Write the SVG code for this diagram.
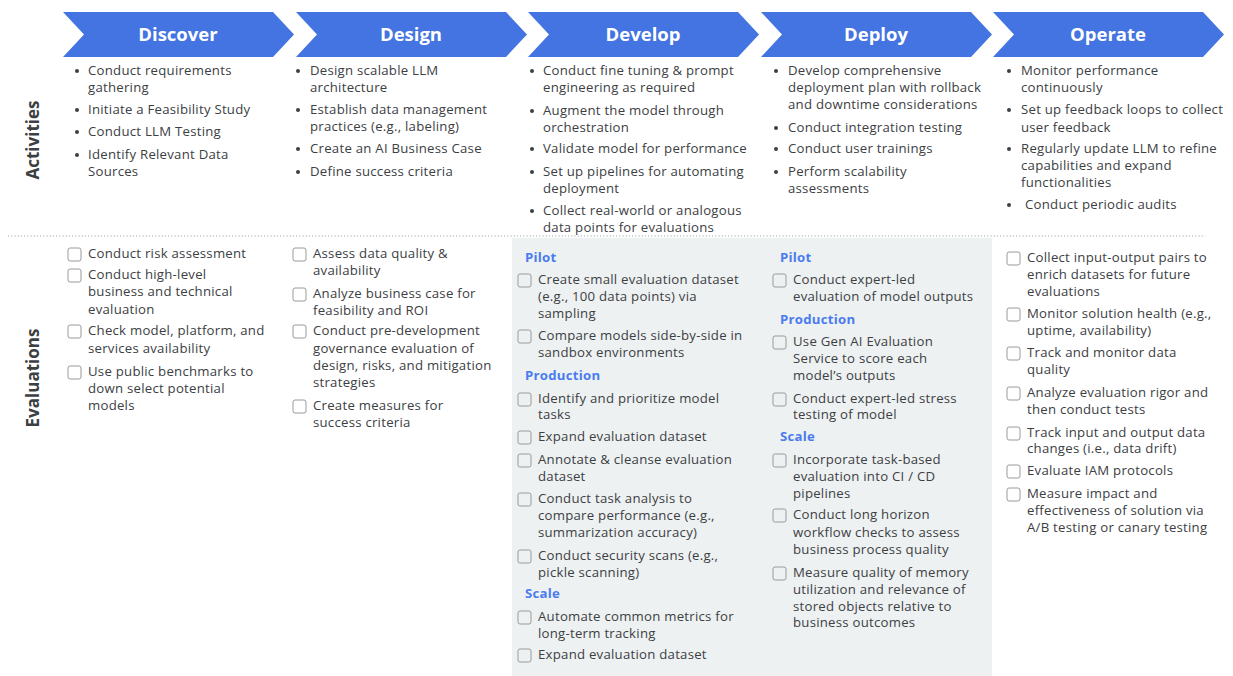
<svg xmlns="http://www.w3.org/2000/svg" width="1233" height="676" viewBox="0 0 1233 676">
<defs>
<style>
.bg{fill:#ffffff}
.chev{fill:#4374E2}
.ht{font-family:"Open Sans","Liberation Sans",sans-serif;font-size:18.5px;font-weight:700;fill:#ffffff;text-anchor:middle}
.t{font-family:"Open Sans","Liberation Sans",sans-serif;font-size:13.2px;letter-spacing:0.25px;fill:#3c4043}
.lab{font-family:"Open Sans","Liberation Sans",sans-serif;font-size:13.2px;letter-spacing:0.25px;font-weight:700;fill:#4A7BEF}
.side{font-family:"Open Sans","Liberation Sans",sans-serif;font-size:17px;font-weight:700;fill:#3c4043;text-anchor:middle}
.bul{fill:#3c4043}
.cb{fill:none;stroke:#9a9a9a;stroke-width:1}
.panel{fill:#EEF1F2}
.dot{stroke:#a8a8a8;stroke-width:1.2;stroke-dasharray:1.2 2;fill:none}
</style>
<circle id="b" r="2" class="bul"/>
<rect id="c" width="13" height="13" rx="2" class="cb"/>
</defs>
<rect class="bg" width="1233" height="676"/>
<rect class="panel" x="512" y="238" width="480" height="438"/>
<line class="dot" x1="8" y1="236" x2="1205" y2="236"/>

<g id="side-labels">
<text class="side" transform="translate(39,140) rotate(-90)">Activities</text>
<text class="side" transform="translate(39,378) rotate(-90)">Evaluations</text>
</g>

<g id="discover">
<path class="chev" d="M63,12 H273 L294,34.5 L273,57 H63 L84,34.5 Z"/>
<text class="ht" x="178" y="41">Discover</text>
<g class="t">
<use href="#b" x="77" y="71"/><text x="88" y="75">Conduct requirements</text><text x="88" y="92">gathering</text>
<use href="#b" x="77" y="110"/><text x="88" y="114">Initiate a Feasibility Study</text>
<use href="#b" x="77" y="132"/><text x="88" y="136">Conduct LLM Testing</text>
<use href="#b" x="77" y="155"/><text x="88" y="159">Identify Relevant Data</text><text x="88" y="176">Sources</text>
</g>
<g class="t">
<use href="#c" x="68" y="248"/><text x="88" y="258">Conduct risk assessment</text>
<use href="#c" x="68" y="269"/><text x="88" y="279">Conduct high-level</text><text x="88" y="296">business and technical</text><text x="88" y="314">evaluation</text>
<use href="#c" x="68" y="325"/><text x="88" y="335">Check model, platform, and</text><text x="88" y="353">services availability</text>
<use href="#c" x="68" y="366"/><text x="88" y="376">Use public benchmarks to</text><text x="88" y="393">down select potential</text><text x="88" y="410">models</text>
</g>
</g>

<g id="design">
<path class="chev" d="M296,12 H506 L527,34.5 L506,57 H296 L317,34.5 Z"/>
<text class="ht" x="411" y="41">Design</text>
<g class="t">
<use href="#b" x="298" y="71"/><text x="310" y="75">Design scalable LLM</text><text x="310" y="92">architecture</text>
<use href="#b" x="298" y="110"/><text x="310" y="114">Establish data management</text><text x="310" y="131">practices (e.g., labeling)</text>
<use href="#b" x="298" y="149"/><text x="310" y="153">Create an AI Business Case</text>
<use href="#b" x="298" y="172"/><text x="310" y="176">Define success criteria</text>
</g>
<g class="t">
<use href="#c" x="293" y="248"/><text x="313" y="258">Assess data quality &amp;</text><text x="313" y="275">availability</text>
<use href="#c" x="293" y="288"/><text x="313" y="298">Analyze business case for</text><text x="313" y="315">feasibility and ROI</text>
<use href="#c" x="293" y="325"/><text x="313" y="335">Conduct pre-development</text><text x="313" y="353">governance evaluation of</text><text x="313" y="370">design, risks, and mitigation</text><text x="313" y="387">strategies</text>
<use href="#c" x="293" y="400"/><text x="313" y="410">Create measures for</text><text x="313" y="427">success criteria</text>
</g>
</g>

<g id="develop">
<path class="chev" d="M528,12 H738 L759,34.5 L738,57 H528 L549,34.5 Z"/>
<text class="ht" x="643" y="41">Develop</text>
<g class="t">
<use href="#b" x="532" y="71"/><text x="543" y="75">Conduct fine tuning &amp; prompt</text><text x="543" y="92">engineering as required</text>
<use href="#b" x="532" y="111"/><text x="543" y="115">Augment the model through</text><text x="543" y="132">orchestration</text>
<use href="#b" x="532" y="149"/><text x="543" y="153">Validate model for performance</text>
<use href="#b" x="532" y="172"/><text x="543" y="176">Set up pipelines for automating</text><text x="543" y="193">deployment</text>
<use href="#b" x="532" y="211"/><text x="543" y="215">Collect real-world or analogous</text><text x="543" y="232">data points for evaluations</text>
</g>
<g class="t">
<text class="lab" x="525" y="262">Pilot</text>
<use href="#c" x="518" y="274"/><text x="538" y="284">Create small evaluation dataset</text><text x="538" y="301">(e.g., 100 data points) via</text><text x="538" y="318">sampling</text>
<use href="#c" x="518" y="330"/><text x="538" y="340">Compare models side-by-side in</text><text x="538" y="357">sandbox environments</text>
<text class="lab" x="525" y="380">Production</text>
<use href="#c" x="518" y="393"/><text x="538" y="403">Identify and prioritize model</text><text x="538" y="419">tasks</text>
<use href="#c" x="518" y="431"/><text x="538" y="441">Expand evaluation dataset</text>
<use href="#c" x="518" y="454"/><text x="538" y="464">Annotate &amp; cleanse evaluation</text><text x="538" y="481">dataset</text>
<use href="#c" x="518" y="493"/><text x="538" y="503">Conduct task analysis to</text><text x="538" y="520">compare performance (e.g.,</text><text x="538" y="537">summarization accuracy)</text>
<use href="#c" x="518" y="550"/><text x="538" y="560">Conduct security scans (e.g.,</text><text x="538" y="577">pickle scanning)</text>
<text class="lab" x="525" y="598">Scale</text>
<use href="#c" x="518" y="611"/><text x="538" y="621">Automate common metrics for</text><text x="538" y="638">long-term tracking</text>
<use href="#c" x="518" y="649"/><text x="538" y="659">Expand evaluation dataset</text>
</g>
</g>

<g id="deploy">
<path class="chev" d="M761,12 H971 L992,34.5 L971,57 H761 L782,34.5 Z"/>
<text class="ht" x="876" y="41">Deploy</text>
<g class="t">
<use href="#b" x="776" y="71"/><text x="788" y="75">Develop comprehensive</text><text x="788" y="92">deployment plan with rollback</text><text x="788" y="109">and downtime considerations</text>
<use href="#b" x="776" y="128"/><text x="788" y="132">Conduct integration testing</text>
<use href="#b" x="776" y="149"/><text x="788" y="153">Conduct user trainings</text>
<use href="#b" x="776" y="172"/><text x="788" y="176">Perform scalability</text><text x="788" y="193">assessments</text>
</g>
<g class="t">
<text class="lab" x="780" y="262">Pilot</text>
<use href="#c" x="773" y="274"/><text x="793" y="284">Conduct expert-led</text><text x="793" y="301">evaluation of model outputs</text>
<text class="lab" x="780" y="324">Production</text>
<use href="#c" x="773" y="336"/><text x="793" y="346">Use Gen AI Evaluation</text><text x="793" y="363">Service to score each</text><text x="793" y="380">model’s outputs</text>
<use href="#c" x="773" y="393"/><text x="793" y="403">Conduct expert-led stress</text><text x="793" y="419">testing of model</text>
<text class="lab" x="780" y="441">Scale</text>
<use href="#c" x="773" y="454"/><text x="793" y="464">Incorporate task-based</text><text x="793" y="481">evaluation into CI / CD</text><text x="793" y="498">pipelines</text>
<use href="#c" x="773" y="509"/><text x="793" y="519">Conduct long horizon</text><text x="793" y="537">workflow checks to assess</text><text x="793" y="554">business process quality</text>
<use href="#c" x="773" y="567"/><text x="793" y="577">Measure quality of memory</text><text x="793" y="594">utilization and relevance of</text><text x="793" y="611">stored objects relative to</text><text x="793" y="627">business outcomes</text>
</g>
</g>

<g id="operate">
<path class="chev" d="M993,12 H1203 L1224,34.5 L1203,57 H993 L1014,34.5 Z"/>
<text class="ht" x="1108" y="41">Operate</text>
<g class="t">
<use href="#b" x="1009" y="71"/><text x="1021" y="75">Monitor performance</text><text x="1021" y="92">continuously</text>
<use href="#b" x="1009" y="110"/><text x="1021" y="114">Set up feedback loops to collect</text><text x="1021" y="132">user feedback</text>
<use href="#b" x="1009" y="149"/><text x="1021" y="153">Regularly update LLM to refine</text><text x="1021" y="170">capabilities and expand</text><text x="1021" y="187">functionalities</text>
<use href="#b" x="1009" y="205"/><text x="1025" y="209">Conduct periodic audits</text>
</g>
<g class="t">
<use href="#c" x="1007" y="252"/><text x="1027" y="262">Collect input-output pairs to</text><text x="1027" y="279">enrich datasets for future</text><text x="1027" y="296">evaluations</text>
<use href="#c" x="1007" y="308"/><text x="1027" y="318">Monitor solution health (e.g.,</text><text x="1027" y="335">uptime, availability)</text>
<use href="#c" x="1007" y="347"/><text x="1027" y="357">Track and monitor data</text><text x="1027" y="374">quality</text>
<use href="#c" x="1007" y="387"/><text x="1027" y="397">Analyze evaluation rigor and</text><text x="1027" y="414">then conduct tests</text>
<use href="#c" x="1007" y="427"/><text x="1027" y="437">Track input and output data</text><text x="1027" y="453">changes (i.e., data drift)</text>
<use href="#c" x="1007" y="465"/><text x="1027" y="475">Evaluate IAM protocols</text>
<use href="#c" x="1007" y="488"/><text x="1027" y="498">Measure impact and</text><text x="1027" y="515">effectiveness of solution via</text><text x="1027" y="532">A/B testing or canary testing</text>
</g>
</g>
</svg>
